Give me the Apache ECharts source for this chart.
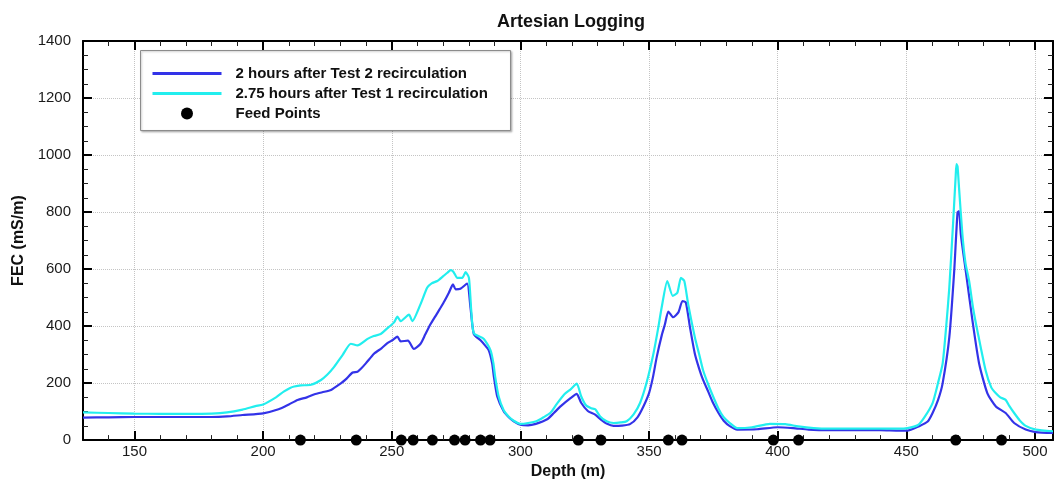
<!DOCTYPE html>
<html><head><meta charset="utf-8">
<script src="https://cdn.jsdelivr.net/npm/echarts@6/dist/echarts.min.js"></script>
<style>html,body{margin:0;padding:0;background:#fff}#c{width:1054px;height:485px}</style>
</head><body><div id="c"></div>
<script>
const feedDepths = [214.5, 236.2, 253.7, 258.3, 265.8, 274.4, 278.5, 284.5, 288.2, 322.5, 331.3, 357.5, 362.8, 398.3, 408.1, 469.2, 487.0];

const blueDepth = [130,140,150,160,170,180,186,192,200,206,210,213.4,217,220,223,226.4,230.2,232,234.8,236.7,238,240,243.1,246,248.3,250.5,252.2,253.5,256.3,258.6,261.2,263,265.1,267,269,270.5,272.2,273.8,274.8,276.7,279.3,280.6,281.9,284.5,286,287.7,289,289.7,291,293.5,295.5,297.4,300,303,306,310.4,313,315.7,319.6,321.9,323.6,326.2,328.9,331.3,333.5,336.2,339.4,342.6,345.5,347.8,350,351.5,353,355,356.2,357.5,359.4,361.4,363,364.3,365.9,367.8,369.5,371,373,374.9,377,379,381.4,384.3,392,400,406,412,420,430,440,447.3,450.4,455,458.3,460.2,462.3,464.1,466.7,468.6,469.9,470.5,471.2,473.1,475.7,478.3,481.5,484.8,488.6,491.9,496.4,500.3,507];
const blueFEC = [79,80,81,81,81,81,83,88,94,108,125,141,150,161,168,176,199,212,237,240,250,270,303,322,340,352,363,346,349,320,338,370,407,435,465,488,517,546,529,531,549,465,372,350,335,315,270,222,153,101,80,66,54,52,57,73,95,119,148,162,131,102,90,72,58,50,51,56,80,118,165,220,292,370,407,451,431,448,488,483,396,303,250,211,170,130,95,68,49,37,38,45,42,37,35,35,35,33,33,49,65,95,140,199,361,593,799,803,720,593,419,268,164,118,95,60,37,28,25];

const cyanDepth = [130,140,150,160,170,180,186,192,197,200,205,208,210.5,212.1,214.7,218.6,222.5,225,227.6,231,234.1,236.7,240.6,243,245.7,248,250.9,252.2,253.5,256.7,258,261.2,263.8,265.5,267.7,270,271.6,272.9,274,275.5,277.4,278.7,280,280.9,281.9,285.8,288.4,289.5,290.2,291.5,293.5,295.5,297.4,300,303,306.4,309,311.7,314,317,319.6,321.9,323.6,325.5,327.5,329.1,331,333.5,336.2,339,341.3,344,346.5,349,351.7,353.5,354.9,357.1,359.2,361,362.4,363.7,365.2,367.8,369.5,371,373,374.9,377,379,381.4,384.3,390,397,403,408,414,420,430,440,447.3,450.4,454.4,457,460.2,462.3,464.1,465.5,466.7,468.2,469.2,469.5,469.9,470.5,471.8,473,474.4,476,477.6,480.8,483,484.8,486.5,488.6,490,491.9,494,496.4,500.3,507];
const cyanFEC = [97,95,93,92,92,93,97,107,119,125,150,170,183,188,192,194,211,230,257,300,338,332,355,365,372,390,413,433,417,440,417,477,535,550,558,575,587,596,590,569,569,589,569,454,375,355,315,270,222,155,105,82,68,57,60,67,80,96,125,160,179,198,154,122,112,108,83,66,60,62,66,90,130,200,303,390,465,558,506,517,569,558,477,361,300,245,195,153,110,80,60,42,45,57,56,48,42,40,40,40,40,42,52,80,130,200,268,400,535,766,930,968,960,882,720,620,558,460,384,245,185,164,150,141,120,95,70,50,37,31];

const xTicks = [150,200,250,300,350,400,450,500];
const yTicks = [0,200,400,600,800,1000,1200,1400];

const seriesNames = ['2 hours after Test 2 recirculation', '2.75 hours after Test 1 recirculation', 'Feed Points'];

const zip = (a, b) => a.map((v, i) => [v, b[i]]);
const FONT = '"Liberation Sans", Arial, sans-serif';

function axisLine() { return {show: true, onZero: false, lineStyle: {color: '#000', width: 2}}; }
function tick() { return {show: true, inside: true, length: 9, lineStyle: {color: '#000', width: 2}}; }
function minor(n) { return {show: true, splitNumber: n, length: 5, lineStyle: {color: '#222', width: 1}}; }
function gridLine() { return {show: true, lineStyle: {color: '#c4c4c4', type: 'dotted', width: 1}}; }

const xBase = {type: 'value', min: 130, max: 507, minInterval: 50, maxInterval: 50, splitNumber: 8};
const yBase = {type: 'value', min: yTicks[0], max: yTicks[yTicks.length - 1], interval: 200};

const chart = echarts.init(document.getElementById('c'), null, {renderer: 'canvas'});
chart.setOption({
  animation: false,
  backgroundColor: '#fff',
  title: {
    text: 'Artesian Logging', left: 492, top: 8,
    textStyle: {fontFamily: FONT, fontSize: 18, fontWeight: 'bold', color: '#111'}
  },
  grid: {left: 83, right: 1, top: 41, bottom: 41, containLabel: false},
  graphic: [{
    type: 'rect', left: 140, top: 50, z: 3,
    shape: {width: 370, height: 80},
    style: {fill: '#fff', stroke: '#8c8c8c', lineWidth: 1, shadowBlur: 2, shadowOffsetX: 1, shadowOffsetY: 1, shadowColor: 'rgba(0,0,0,0.25)'}
  }],
  legend: {
    z: 10, orient: 'vertical', left: 151, top: 66, padding: 0,
    itemWidth: 69, itemHeight: 12, itemGap: 5,
    data: [
      {name: seriesNames[0], itemStyle: {opacity: 0}},
      {name: seriesNames[1], itemStyle: {opacity: 0}},
      {name: seriesNames[2], itemStyle: {opacity: 1}}
    ],
    lineStyle: {width: 3},
    textStyle: {fontFamily: FONT, fontSize: 15, fontWeight: 'bold', color: '#111', padding: [0, 0, 0, 9]}
  },
  xAxis: [
    Object.assign({}, xBase, {
      position: 'bottom',
      axisLine: axisLine(), axisTick: tick(), minorTick: minor(5),
      axisLabel: {margin: 4, fontSize: 15, color: '#1a1a1a', fontFamily: FONT, showMinLabel: false, showMaxLabel: false},
      splitLine: gridLine(),
      name: 'Depth (m)', nameLocation: 'middle', nameGap: 19,
      nameTextStyle: {fontFamily: FONT, fontSize: 16, fontWeight: 'bold', color: '#111'}
    }),
    Object.assign({}, xBase, {
      position: 'top',
      axisLine: axisLine(), axisTick: tick(), minorTick: minor(5),
      axisLabel: {show: false},
      splitLine: {show: false}
    })
  ],
  yAxis: [
    Object.assign({}, yBase, {
      position: 'left',
      axisLine: axisLine(), axisTick: tick(), minorTick: minor(4),
      axisLabel: {margin: 12, fontSize: 15, color: '#1a1a1a', fontFamily: FONT, formatter: v => String(v)},
      splitLine: gridLine(),
      name: 'FEC (mS/m)', nameLocation: 'middle', nameGap: 56,
      nameTextStyle: {fontFamily: FONT, fontSize: 16, fontWeight: 'bold', color: '#111'}
    }),
    Object.assign({}, yBase, {
      position: 'right',
      axisLine: axisLine(), axisTick: tick(), minorTick: minor(4),
      axisLabel: {show: false},
      splitLine: {show: false}
    })
  ],
  series: [
    {
      name: seriesNames[0], type: 'line', xAxisIndex: 0, yAxisIndex: 0,
      data: zip(blueDepth, blueFEC), symbol: 'none', smooth: 0.2,
      lineStyle: {color: '#3333e8', width: 2.2}, itemStyle: {color: '#4646ff'}, z: 2
    },
    {
      name: seriesNames[1], type: 'line', xAxisIndex: 0, yAxisIndex: 0,
      data: zip(cyanDepth, cyanFEC), symbol: 'none', smooth: 0.2,
      lineStyle: {color: '#22eeee', width: 2.2}, itemStyle: {color: '#22f4f4'}, z: 3
    },
    {
      name: seriesNames[2], type: 'scatter', xAxisIndex: 0, yAxisIndex: 0,
      data: feedDepths.map(d => [d, 0]), symbol: 'circle', symbolSize: 11, clip: false,
      itemStyle: {color: '#000', opacity: 1}, z: 5
    }
  ]
});
</script>
</body></html>
